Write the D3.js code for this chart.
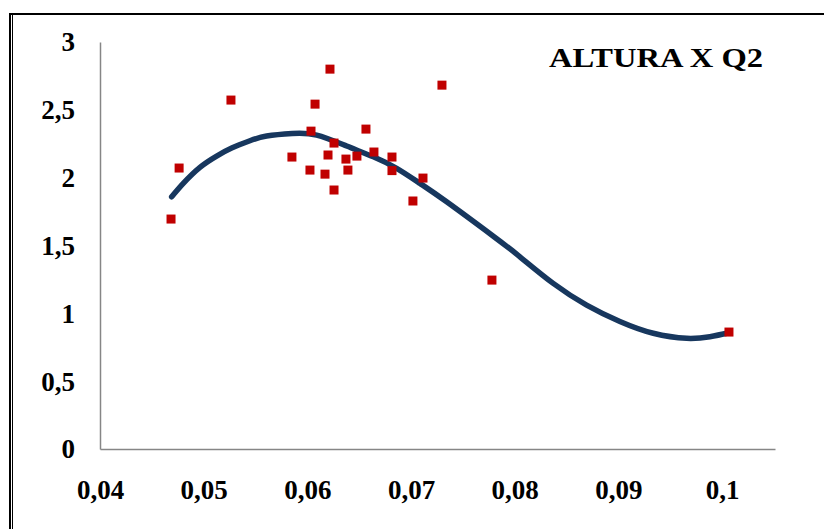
<!DOCTYPE html>
<html>
<head>
<meta charset="utf-8">
<script src="https://cdn.jsdelivr.net/npm/d3@7"></script>
<style>
  body { margin: 0; background: #fff; }
  svg { display: block; }
</style>
</head>
<body>
<svg width="824" height="529"></svg>
<script>
// measured points (Q2, altura)
const q2 = [0.04685, 0.04763, 0.05263, 0.05851, 0.06025, 0.06035, 0.06074, 0.0617,
            0.06199, 0.06218, 0.06257, 0.06257, 0.06372, 0.06391, 0.06478, 0.06565,
            0.06642, 0.06816, 0.06816, 0.07018, 0.07115, 0.07298, 0.0778, 0.10066];
const altura = [1.695, 2.071, 2.572, 2.152, 2.056, 2.343, 2.542, 2.026,
                2.167, 2.800, 2.255, 1.909, 2.137, 2.056, 2.159, 2.358,
                2.189, 2.152, 2.052, 1.828, 1.997, 2.682, 1.245, 0.862];

// trend curve
const trendX = [0.04691, 0.04803, 0.04964, 0.05125, 0.0527, 0.05446, 0.05607, 0.05854,
                0.0609, 0.06379, 0.06636, 0.06861, 0.07086, 0.07343, 0.07787, 0.0805,
                0.08371, 0.08693, 0.09014, 0.09336, 0.09658, 0.09882, 0.10069];
const trendY = [1.859, 1.958, 2.076, 2.159, 2.218, 2.272, 2.307, 2.326,
                2.314, 2.233, 2.154, 2.069, 1.958, 1.822, 1.572, 1.417,
                1.221, 1.061, 0.940, 0.853, 0.816, 0.828, 0.857];

const xTicks = [0.04, 0.05, 0.06, 0.07, 0.08, 0.09, 0.1];
const yTicks = [0, 0.5, 1, 1.5, 2, 2.5, 3];
const title = 'ALTURA X Q2';

const svg = d3.select('svg');
const fmt = d => String(d).replace('.', ',');
const serif = '"Liberation Serif", "Times New Roman", serif';

// chart frame (cut off at right and bottom)
svg.append('line').attr('x1', 9).attr('x2', 824).attr('y1', 14).attr('y2', 14)
    .attr('stroke', '#000').attr('stroke-width', 2);
svg.append('line').attr('x1', 10).attr('x2', 10).attr('y1', 13).attr('y2', 529)
    .attr('stroke', '#000').attr('stroke-width', 2);
svg.append('line').attr('x1', 12.5).attr('x2', 12.5).attr('y1', 14).attr('y2', 529)
    .attr('stroke', '#000').attr('stroke-width', 1);

const xScale = d3.scaleLinear().domain([0.04, 0.1051]).range([100, 775]);
const yScale = d3.scaleLinear().domain([0, 3]).range([449, 42]);

const yAxis = d3.axisLeft(yScale).tickValues(yTicks).tickSize(0).tickFormat(fmt);
const xAxis = d3.axisBottom(xScale).tickValues(xTicks).tickSize(0).tickFormat(fmt);

const gy = svg.append('g').attr('transform', 'translate(100,0)').call(yAxis);
const gx = svg.append('g').attr('transform', 'translate(0,449)').call(xAxis);

[gx, gy].forEach(g => {
    g.select('.domain').attr('stroke', '#868686').attr('stroke-width', 1.5);
    g.selectAll('text')
        .attr('font-family', serif)
        .attr('font-weight', 'bold')
        .attr('font-size', 27)
        .attr('fill', '#000');
});
gy.selectAll('text').attr('x', -25).attr('dy', '0.33em');
gx.selectAll('text').attr('y', 50).attr('dy', 0);

// trend line
const trend = trendX.map((x, i) => [x, trendY[i]]);
const line = d3.line()
    .x(d => xScale(d[0]))
    .y(d => yScale(d[1]))
    .curve(d3.curveNatural);

svg.append('path').datum(trend)
    .attr('d', line)
    .attr('fill', 'none')
    .attr('stroke', '#17375e')
    .attr('stroke-width', 5.5)
    .attr('stroke-linecap', 'round');

// points
const pts = q2.map((x, i) => [x, altura[i]]);
svg.selectAll('rect.pt').data(pts).enter()
    .append('rect')
    .attr('class', 'pt')
    .attr('x', d => xScale(d[0]) - 4.5)
    .attr('y', d => yScale(d[1]) - 4.5)
    .attr('width', 9)
    .attr('height', 9)
    .attr('fill', '#c00000');

svg.append('text')
    .attr('x', 549).attr('y', 67)
    .attr('font-family', serif)
    .attr('font-weight', 'bold')
    .attr('font-size', 27)
    .attr('textLength', 214)
    .attr('lengthAdjust', 'spacingAndGlyphs')
    .text(title);
</script>
</body>
</html>
